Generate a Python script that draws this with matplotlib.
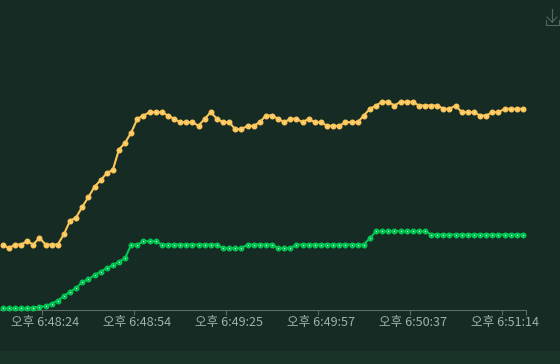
import matplotlib
matplotlib.use("Agg")
from matplotlib import pyplot as plt
from matplotlib.lines import Line2D
from matplotlib.patches import Rectangle
import numpy as np

plt.rcParams['font.family'] = ['Noto Sans CJK KR', 'DejaVu Sans']

# values, height above the x axis
yellow = [65.5, 61.8, 65.5, 65.5, 68.8, 65.5, 72.2, 65.5, 65.5, 65.5,
          75.8, 89.2, 92.5, 103.2, 112.8, 123.2, 129.8, 136.8, 140.2, 160.5,
          167.2, 177.5, 191.2, 194.5, 197.8, 197.8, 197.8, 194.5, 191.2, 187.8,
          187.8, 187.8, 184.2, 191.2, 197.8, 191.2, 187.8, 187.8, 180.8, 180.8,
          184.2, 184.2, 187.8, 194.5, 194.5, 191.2, 187.8, 191.2, 191.2, 187.8,
          191.2, 187.8, 187.8, 184.2, 184.2, 184.2, 187.8, 187.8, 187.8, 194.5,
          201.2, 204.5, 208.2, 208.2, 204.5, 208.2, 208.2, 208.2, 204.5, 204.5,
          204.5, 204.5, 201.2, 201.2, 204.5, 197.8, 197.8, 197.8, 194.5, 194.5,
          197.8, 197.8, 201.2, 201.2, 201.2, 201.2]
green = [1.8, 1.8, 1.8, 1.8, 1.8, 2.5, 3.2, 3.8, 6.5, 9.5,
         13.8, 18.5, 21.8, 28.2, 30.8, 34.8, 38.5, 41.8, 44.8, 48.5,
         51.8, 65.5, 65.5, 68.8, 68.8, 68.8, 65.5, 65.5, 65.5, 65.5,
         65.5, 65.5, 65.5, 65.5, 65.5, 65.5, 61.8, 61.8, 61.8, 61.8,
         65.5, 65.5, 65.5, 65.5, 65.5, 61.8, 61.8, 61.8, 65.5, 65.5,
         65.5, 65.5, 65.5, 65.5, 65.5, 65.5, 65.5, 65.5, 65.5, 65.5,
         71.8, 78.8, 78.8, 78.8, 78.8, 78.8, 78.8, 78.8, 78.8, 78.8,
         75.5, 75.5, 75.5, 75.5, 75.5, 75.5, 75.5, 75.5, 75.5, 75.5,
         75.5, 75.5, 75.5, 75.5, 75.5, 75.5]
label_index = [7, 22, 37, 52, 67, 82]
tick_labels = ["오후 6:48:24", "오후 6:48:54", "오후 6:49:25",
               "오후 6:49:57", "오후 6:50:37", "오후 6:51:14"]
tick_edges = [6.5, 21.5, 36.5, 51.5, 66.5, 81.5, 85.5]

W, H = 560, 364
bg = "#152b23"
band = "#1a3329"

fig = plt.figure(figsize=(W / 100, H / 100), dpi=100, facecolor=bg)
fig.patches.append(Rectangle((0, 0), 1, 13 / H, transform=fig.transFigure,
                             facecolor=band, edgecolor="none", zorder=-1))

ax = fig.add_axes([0, (H - 310) / H, 526 / W, 310 / H])
ax.patch.set_alpha(0)

x = np.arange(len(yellow))
for values, color, center in [(yellow, "#fcc65a", "#fff1cc"), (green, "#04c554", "#d8ffe8")]:
    ax.plot(x, values, color=color, lw=1.5, marker="o", ms=2.6, mfc=center,
            mec=color, mew=1.7, clip_on=False, zorder=3)

ax.set_xlim(-0.44, 85.5)
ax.set_ylim(0, 310)
for side in ["top", "left", "right"]:
    ax.spines[side].set_visible(False)
ax.spines["bottom"].set_color("#5c6c66")
ax.spines["bottom"].set_linewidth(0.8)

ax.set_yticks([])
ax.set_xticks(tick_edges)
ax.set_xticklabels([])
ax.tick_params(axis="x", length=3.6, width=0.8, color="#5c6c66")
ax.set_xticks(label_index, labels=tick_labels, minor=True)
ax.tick_params(axis="x", which="minor", length=0, pad=4.5, labelsize=9.1, labelcolor="#a3b0ab")
for lab in ax.get_xticklabels(minor=True):
    lab.set_x(lab.get_position()[0])

# download icon, top right
def px_line(xs, ys):
    fig.add_artist(Line2D([v / W for v in xs], [1 - v / H for v in ys],
                          color="#56645f", lw=0.8))

px_line([552, 552], [9, 22])
px_line([547, 552, 557], [17, 22, 17])
px_line([545.5, 545.5, 558.5, 558.5], [20, 25, 25, 20])

fig.savefig("out.png", dpi=100, facecolor=bg)
